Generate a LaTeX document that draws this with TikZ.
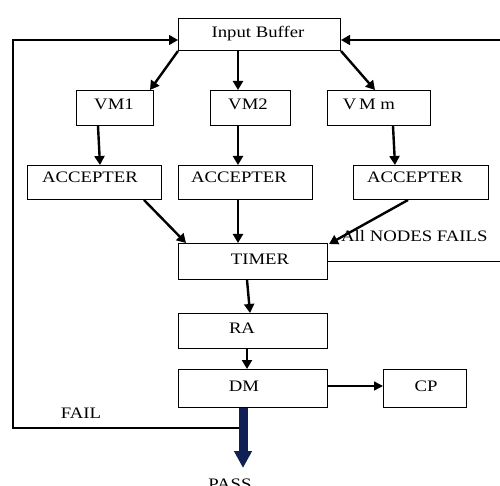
\documentclass[tikz,border=0pt]{standalone}
\usepackage{fontspec}
\setmainfont{Liberation Serif}[FakeStretch=1.17]
\usetikzlibrary{arrows.meta,calc}
\definecolor{navy}{RGB}{16,32,84}
\tikzset{
  box/.style={draw, line width=1pt, inner sep=0pt, anchor=north west},
  lab/.style={anchor=base, inner sep=0pt, font=\fontsize{16}{18}\selectfont},
  arr/.style={line width=2.4pt, -{Triangle[length=9pt,width=10pt]}},
  thin arr/.style={line width=1.6pt, -{Triangle[length=9pt,width=9pt]}},
  fb/.style={line width=1.6pt},
}
\begin{document}
\begin{tikzpicture}[x=1pt, y=-1pt]
\useasboundingbox (0,0) rectangle (500,486);

% boxes
\node[box, minimum width=162pt, minimum height=32pt] (ib) at (178,18) {};
\node[box, minimum width=77pt, minimum height=35pt] (vm1) at (76,90) {};
\node[box, minimum width=80pt, minimum height=35pt] (vm2) at (210,90) {};
\node[box, minimum width=103pt, minimum height=35pt] (vmm) at (327,90) {};
\node[box, minimum width=134pt, minimum height=34pt] (a1) at (27,165) {};
\node[box, minimum width=134pt, minimum height=34pt] (a2) at (178,165) {};
\node[box, minimum width=135pt, minimum height=34pt] (a3) at (353,165) {};
\node[box, minimum width=149pt, minimum height=36pt] (timer) at (178,243) {};
\node[box, minimum width=149pt, minimum height=35pt] (ra) at (178,313) {};
\node[box, minimum width=149pt, minimum height=38pt] (dm) at (178,369) {};
\node[box, minimum width=83pt, minimum height=38pt] (cp) at (383,369) {};

% labels
\node[lab] (tib) at (258,38) {Input Buffer};
\node[lab] (tvm1) at (114,110) {VM1};
\node[lab] (tvm2) at (248,110) {VM2};
\node[lab] (tvmm) at (369,110) {V\,M m};
\node[lab] (ta1) at (90,183) {ACCEPTER};
\node[lab] (ta2) at (239,183) {ACCEPTER};
\node[lab] (ta3) at (415,183) {ACCEPTER};
\node[lab] (ttimer) at (260,264) {TIMER};
\node[lab] (tra) at (242,333) {RA};
\node[lab] (tdm) at (244,391) {DM};
\node[lab] (tcp) at (426,391) {CP};
\node[lab, anchor=base west] (tall) at (341,241) {All NODES FAILS};
\node[lab] (tfail) at (81,418) {FAIL};
\node[lab] (tpass) at (230,489) {PASS};

% buffer to virtual machines
\draw[arr] (ib.south west) -- ($(vm1.north east)+(-4,0)$);
\draw[arr] (238,0 |- ib.south) -- (238,0 |- vm2.north);
\draw[arr] (ib.south east) -- (375,0 |- vmm.north);

% virtual machines to accepters
\draw[arr] (98,0 |- vm1.south) -- (100,0 |- a1.north);
\draw[arr] (238,0 |- vm2.south) -- (238,0 |- a2.north);
\draw[arr] (393,0 |- vmm.south) -- (395,0 |- a3.north);

% accepters to timer
\draw[arr] (144,0 |- a1.south) -- (186,0 |- timer.north);
\draw[arr] (238,0 |- a2.south) -- (238,0 |- timer.north);
\draw[arr] (408,0 |- a3.south) -- ($(timer.north east)+(1,1)$);

% timer, RA, DM chain
\draw[arr] (247,0 |- timer.south) -- (250,0 |- ra.north);
\draw[arr] (247,0 |- ra.south) -- (247,0 |- dm.north);
\draw[thin arr] (dm.east |- 0,386) -- (cp.west |- 0,386);

% feedback loops to the input buffer
\coordinate (failpt) at (243,428);
\coordinate (lc) at (13,40);
\coordinate (rc) at (504,40);
\draw[fb, -{Triangle[length=9pt,width=10pt]}] (failpt) -| (lc) -- (lc -| ib.west);
\draw[line width=1pt] (timer.east) -- (rc |- timer.east);
\draw[fb] (rc |- timer.east) -- (rc);
\draw[fb, -{Triangle[length=9pt,width=10pt]}] (rc) -- (rc -| ib.east);

% pass output
\draw[navy, line width=9pt, -{Triangle[length=17pt,width=17pt]}] (243,0 |- dm.south) -- (243,468);
\end{tikzpicture}
\end{document}
